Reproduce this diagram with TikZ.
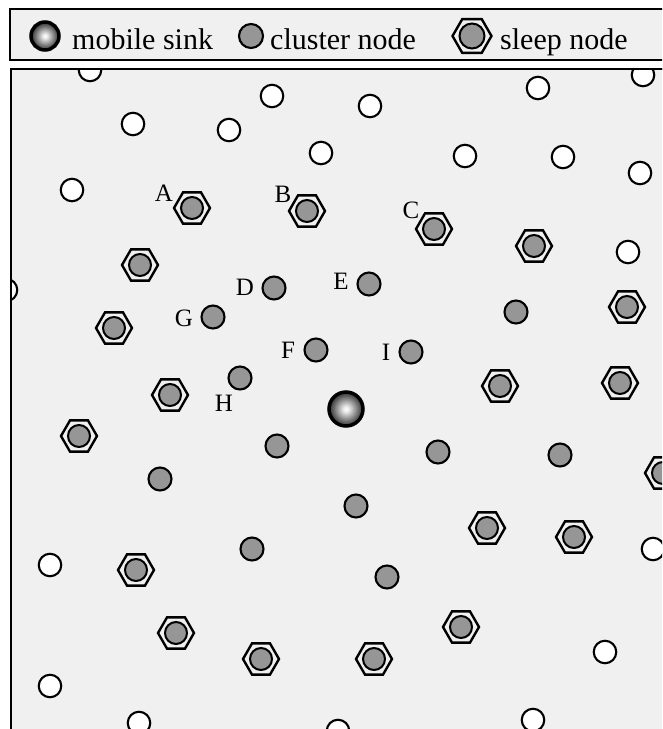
\documentclass[tikz,border=0pt]{standalone}
\usepackage{fontspec}
\setmainfont{Liberation Serif}
\usetikzlibrary{shapes.geometric}
\definecolor{bgc}{RGB}{240,240,240}
\definecolor{nodegray}{RGB}{150,150,150}
\pgfdeclareradialshading{sinkball}{\pgfpoint{0bp}{0bp}}{color(0bp)=(white); color(4bp)=(white!92!black); color(25bp)=(black!82); color(50bp)=(black!82)}
\begin{document}
\begin{tikzpicture}[x=1pt,y=-1pt,
 emptynode/.style={circle, draw, fill=white, line width=2.1pt, minimum size=22.5pt, inner sep=0pt},
 clusternode/.style={circle, draw, fill=nodegray, line width=2.1pt, minimum size=23pt, inner sep=0pt},
 sleepnode/.style={regular polygon, regular polygon sides=6, draw, line width=2.4pt, fill=bgc, minimum size=36pt, inner sep=0pt,
   path picture={\draw[fill=nodegray, line width=2pt] (path picture bounding box.center) circle (11pt);}},
 legsleep/.style={regular polygon, regular polygon sides=6, draw, line width=2.4pt, fill=bgc, minimum size=39pt, inner sep=0pt,
   path picture={\draw[fill=nodegray, line width=2pt] (path picture bounding box.center) circle (12.5pt);}},
 sinknode/.style={circle, draw, line width=3.5pt, shading=sinkball, minimum size=34pt, inner sep=0pt},
 lbl/.style={font=\fontsize{25}{25}\selectfont, inner sep=0pt},
 legtext/.style={font=\fontsize{30}{30}\selectfont, anchor=base west, inner sep=0pt},
 frame/.style={draw, line width=2.2pt, fill=bgc}]
\useasboundingbox (0,0) rectangle (662,729);
\clip (0,0) rectangle (662,729);
% legend
\draw[frame] (10,9) rectangle (700,60);
\node[sinknode, minimum size=28pt] (lsink) at (45,36) {};
\node[legtext] (tsink) at (72,49) {mobile sink};
\node[clusternode, minimum size=24pt] (lclus) at (251,36) {};
\node[legtext] (tclus) at (270,49) {cluster node};
\node[legsleep] (lsleep) at (472,36) {};
\node[legtext] (tsleep) at (500,49) {sleep node};
% field
\draw[frame] (11,69) rectangle (700,800);
\begin{scope}
\clip (12,70) rectangle (700,800);
% empty nodes
\foreach \x/\y [count=\i] in {90/70, 272/96, 370/106, 538/88, 643/75, 133/124, 229/130, 321/153, 465/156, 563/157, 640/173, 72/190, 628/252, 6/290, 50/565, 653/549, 605/652, 50/686, 139/723, 338/731, 533/720}
  \node[emptynode] (w\i) at (\x,\y) {};
% cluster nodes
\node[clusternode] (D) at (274,288) {};
\node[clusternode] (E) at (369,284) {};
\node[clusternode] (G) at (213,317) {};
\node[clusternode] (F) at (316,350) {};
\node[clusternode] (I) at (411,352) {};
\node[clusternode] (H) at (240,378) {};
\foreach \x/\y [count=\i] in {516/312, 277/446, 438/452, 560/455, 160/479, 356/506, 252/549, 387/577}
  \node[clusternode] (c\i) at (\x,\y) {};
% sleep nodes
\node[sleepnode] (A) at (192,208) {};
\node[sleepnode] (B) at (307,211) {};
\node[sleepnode] (C) at (434,229) {};
\foreach \x/\y [count=\i] in {534/246, 140/265, 627/307, 114/328, 170/395, 500/386, 620/383, 79/436, 663/473, 487/528, 574/537, 136/570, 176/633, 461/627, 261/659, 374/659}
  \node[sleepnode] (s\i) at (\x,\y) {};
% labels
\node[lbl] (lA) at (164,193) {A};
\node[lbl] (lB) at (283,194) {B};
\node[lbl] (lC) at (411,210) {C};
\node[lbl] (lD) at (245,287) {D};
\node[lbl] (lE) at (341,281) {E};
\node[lbl] (lG) at (184,318) {G};
\node[lbl] (lF) at (288,350) {F};
\node[lbl] (lI) at (386,352) {I};
\node[lbl] (lH) at (224,403) {H};
% sink
\node[sinknode] (sink) at (346,409) {};
\end{scope}
\draw[line width=2.2pt] (11,69) rectangle (700,800);
\end{tikzpicture}
\end{document}
